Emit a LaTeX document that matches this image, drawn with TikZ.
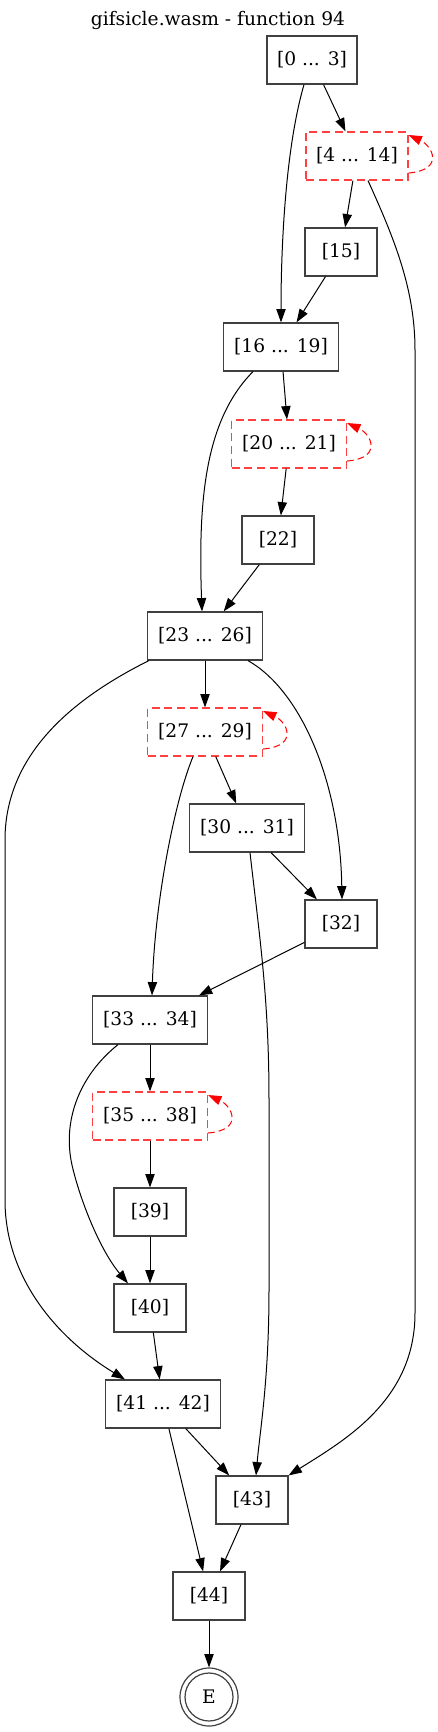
\documentclass[tikz,border=0pt]{standalone}
\usepackage{fontspec}
\setmainfont{DejaVu Serif}
\usetikzlibrary{arrows.meta,calc}
\begin{document}
\begin{tikzpicture}[x=0.75pt,y=-0.75pt,
  blk/.style={draw=black!75, line width=0.9pt, rectangle, minimum height=36pt, inner sep=0pt, font=\fontsize{14}{17}\selectfont},
  narrow/.style={blk, minimum width=54pt},
  wide/.style={blk, minimum width=86.25pt},
  loopblk/.style={draw=red!75, dash pattern=on 6pt off 3.5pt},
  edge/.style={-{Triangle[length=10pt,width=7pt]}, line width=0.75pt},
  loopedge/.style={edge, red, dash pattern=on 5pt off 3pt}]
\useasboundingbox (0,0) rectangle (438,1732);

\node[font=\fontsize{14}{17}\selectfont] (title) at (218,20) {gifsicle.wasm - function 94};

\node[blk, minimum width=67.5pt] (n0) at (312,60) {[0 ... 3]};
\node[blk, minimum width=76.5pt, loopblk] (n4) at (357,156) {[4 ... 14]};
\node[narrow] (n15) at (341,252) {[15]};
\node[wide] (n16) at (281,347) {[16 ... 19]};
\node[wide, loopblk] (n20) at (289,444) {[20 ... 21]};
\node[narrow] (n22) at (278,540) {[22]};
\node[wide] (n23) at (205,636) {[23 ... 26]};
\node[wide, loopblk] (n27) at (205,732) {[27 ... 29]};
\node[wide] (n30) at (247,828) {[30 ... 31]};
\node[narrow] (n32) at (341,924) {[32]};
\node[wide] (n33) at (150,1020) {[33 ... 34]};
\node[wide, loopblk] (n35) at (150,1116) {[35 ... 38]};
\node[narrow] (n39) at (150,1212) {[39]};
\node[narrow] (n40) at (150,1308) {[40]};
\node[wide] (n41) at (163,1404) {[41 ... 42]};
\node[narrow] (n43) at (252,1500) {[43]};
\node[narrow] (n44) at (209,1596) {[44]};
\node[circle, draw=black!75, line width=0.9pt, minimum size=43.5pt, inner sep=0pt, font=\fontsize{14}{17}\selectfont] (E) at (209,1697) {E};
\draw[draw=black!75, line width=0.9pt] (E.center) circle (18pt);

% straight edges
\draw[edge] (n0) -- (n4);
\draw[edge] (n4) -- (n15);
\draw[edge] (n15) -- (n16);
\draw[edge] (n16) -- (n20);
\draw[edge] (n20) -- (n22);
\draw[edge] (n22) -- (n23);
\draw[edge] (n23) -- (n27);
\draw[edge] (n27) -- (n30);
\draw[edge] (n30) -- (n32);
\draw[edge] (n32) -- (n33);
\draw[edge] (n33) -- (n35);
\draw[edge] (n35) -- (n39);
\draw[edge] (n39) -- (n40);
\draw[edge] (n40) -- (n41);
\draw[edge] (n41) -- (n43);
\draw[edge] (n41) -- (n44);
\draw[edge] (n43) -- (n44);
\draw[edge] (n44) -- (E);

% curved edges
\draw[edge] ($(n0.south)+(-8,0)$) .. controls (285,150) and (281,250) .. (n16.north);
\draw[edge] ($(n4.south)+(11,0)$) .. controls (395,240) and (415,290) .. (415,350) -- (415,1313) .. controls (415,1400) and (345,1440) .. (n43.north east);
\draw[edge] ($(n16.south)+(-28,0)$) .. controls (205,420) and (198,500) .. ($(n23.north)+(-3,0)$);
\draw[edge] ($(n23.south west)+(2,0)$) .. controls (80,695) and (5,750) .. (5,840) -- (5,1200) .. controls (5,1280) and (60,1340) .. ($(n41.north)+(-38,0)$);
\draw[edge] ($(n23.south)+(43,0)$) .. controls (300,690) and (340,780) .. ($(n32.north)+(1,0)$);
\draw[edge] ($(n27.south)+(-12,0)$) .. controls (175,800) and (155,900) .. ($(n33.north)+(2,0)$);
\draw[edge] ($(n30.south)+(3,0)$) .. controls (260,940) and (269,1000) .. (269,1100) -- (269,1290) .. controls (269,1380) and (260,1430) .. ($(n43.north)+(4,0)$);
\draw[edge] ($(n33.south)+(-32,0)$) .. controls (80,1075) and (62,1120) .. (72,1165) .. controls (80,1200) and (100,1250) .. ($(n40.north)+(-22,0)$);

% self loops
\foreach \n in {n4,n20,n27,n35} {
  \draw[loopedge] ($(\n.east)+(0,17)$) .. controls ($(\n.east)+(36,14)$) and ($(\n.east)+(24,-10)$) .. ($(\n.east)+(0,-21)$);
}
\end{tikzpicture}
\end{document}
